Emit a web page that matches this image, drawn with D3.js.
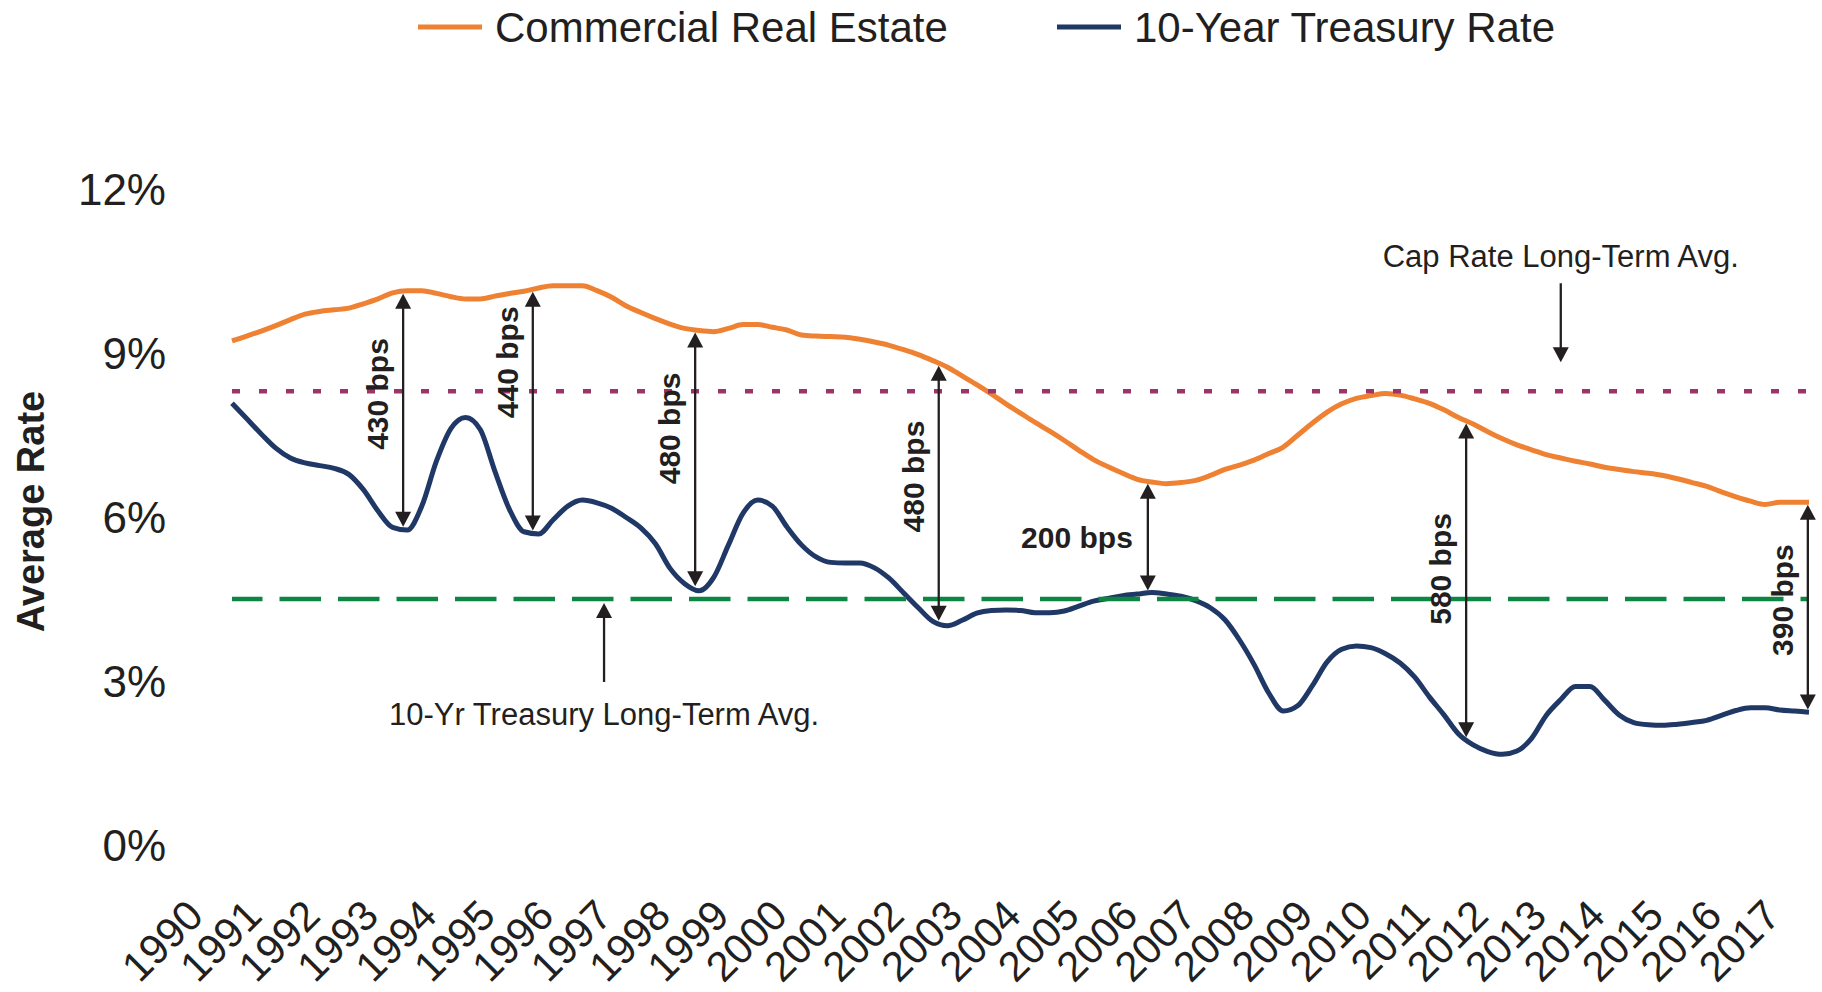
<!DOCTYPE html>
<html>
<head>
<meta charset="utf-8">
<script src="https://cdn.jsdelivr.net/npm/d3@7"></script>
<style>
	body{margin:0;background:#fff;}
	svg{display:block;font-family:"Liberation Sans",Arial,Helvetica,sans-serif;}
</style>
</head>
<body>
<svg id="chart"></svg>
<script>
// x axis tick labels
var yearLabels = ["1990","1991","1992","1993","1994","1995","1996","1997","1998","1999",
	"2000","2001","2002","2003","2004","2005","2006","2007","2008","2009",
	"2010","2011","2012","2013","2014","2015","2016","2017"];
var seriesNames = ["Commercial Real Estate", "10-Year Treasury Rate"];

// quarterly readings (%), first one sits on 1990, last one on 2017
var startYear = 1990;
var capRates = [
	9.22, 9.31, 9.40, 9.50, 9.61, 9.71, 9.76, 9.79,
	9.82, 9.90, 9.99, 10.10, 10.14, 10.14, 10.09, 10.03,
	9.99, 9.99, 10.04, 10.09, 10.13, 10.19, 10.23, 10.23,
	10.23, 10.14, 10.02, 9.86, 9.74, 9.63, 9.53, 9.45,
	9.41, 9.39, 9.45, 9.52, 9.52, 9.47, 9.42, 9.33,
	9.31, 9.30, 9.29, 9.25, 9.20, 9.14, 9.06, 8.97,
	8.86, 8.74, 8.58, 8.42, 8.25, 8.07, 7.90, 7.73,
	7.57, 7.40, 7.22, 7.05, 6.92, 6.80, 6.69, 6.64,
	6.61, 6.63, 6.67, 6.76, 6.87, 6.95, 7.04, 7.16,
	7.28, 7.50, 7.72, 7.92, 8.07, 8.17, 8.22, 8.26,
	8.23, 8.16, 8.08, 7.96, 7.82, 7.70, 7.56, 7.43,
	7.32, 7.23, 7.14, 7.08, 7.02, 6.97, 6.91, 6.87,
	6.83, 6.80, 6.76, 6.70, 6.63, 6.56, 6.46, 6.37,
	6.29, 6.23, 6.27, 6.27, 6.27
];
var treasuryRates = [
	8.08, 7.80, 7.52, 7.26, 7.08, 6.99, 6.94, 6.89,
	6.78, 6.50, 6.11, 5.81, 5.76, 6.20, 7.02, 7.62,
	7.82, 7.60, 6.84, 6.14, 5.73, 5.69, 5.95, 6.20,
	6.31, 6.26, 6.16, 5.99, 5.80, 5.51, 5.06, 4.78,
	4.65, 4.90, 5.49, 6.07, 6.31, 6.20, 5.82, 5.49,
	5.27, 5.17, 5.16, 5.16, 5.07, 4.88, 4.61, 4.34,
	4.09, 4.01, 4.11, 4.24, 4.29, 4.30, 4.29, 4.25,
	4.25, 4.28, 4.37, 4.46, 4.51, 4.56, 4.59, 4.62,
	4.59, 4.55, 4.47, 4.34, 4.12, 3.75, 3.30, 2.78,
	2.45, 2.55, 2.92, 3.35, 3.58, 3.64, 3.61, 3.50,
	3.33, 3.07, 2.71, 2.38, 2.03, 1.83, 1.71, 1.66,
	1.72, 1.95, 2.37, 2.66, 2.90, 2.90, 2.65, 2.38,
	2.24, 2.20, 2.19, 2.21, 2.24, 2.28, 2.37, 2.46,
	2.51, 2.51, 2.47, 2.45, 2.43
];
var yTicks = [0, 3, 6, 9, 12];

// long-term averages
var capRateAvg = 8.3;
var treasuryAvg = 4.5;
var avgLabels = ["Cap Rate Long-Term Avg.", "10-Yr Treasury Long-Term Avg."];
var avgLabelYears = [2012.75, 1996.37];

// spread call-outs
var spreadYears = [1992.93, 1995.15, 1997.93, 2002.10, 2005.68, 2011.13, 2016.98];
var spreadLabels = ["430 bps", "440 bps", "480 bps", "480 bps", "200 bps", "580 bps", "390 bps"];

RateChart = {
	"_width": 1822,
	"_height": 992,
	"_svg": null,
	"_x": null,
	"_y": null,
	"_ink": "#231f20",
	"_colors": ["#ef8133", "#1f3866"],
	"_capAvgColor": "#9c3469",
	"_treasuryAvgColor": "#0d8543",

	"render": function(selector){
		this._svg = d3.select(selector)
					  .attr("width", this._width)
					  .attr("height", this._height);
		this._x = d3.scaleLinear().domain([1990, 2017]).range([232, 1809]);
		this._y = d3.scaleLinear().domain([0, 12]).range([845, 189]);

		this.renderAxes();
		this.renderLines();
		this.renderAverages();
		this.renderSpreads();
		this.renderLegend();
	},
	"points": function(list){
		return list.map(function(v, i){ return {"t": startYear + i / 4, "v": v}; });
	},
	// reading of a series at a given year, between two quarters
	"valueAt": function(list, t){
		var p = (t - startYear) * 4,
			i = Math.floor(p),
			f = p - i;
		if(i >= list.length - 1) return list[list.length - 1];
		return list[i] * (1 - f) + list[i + 1] * f;
	},
	"renderAxes": function(){
		var yAxis = d3.axisLeft(this._y)
					  .tickValues(yTicks)
					  .tickSize(0)
					  .tickPadding(66)
					  .tickFormat(function(d){ return d + "%"; });
		var gy = this._svg.append("g")
					 .attr("class", "y-axis")
					 .attr("transform", "translate(" + this._x(1990) + ",0)")
					 .call(yAxis);
		gy.select(".domain").remove();
		gy.selectAll("text")
		  .attr("font-size", 44)
		  .attr("font-family", null)
		  .attr("fill", this._ink)
		  .attr("dy", "0.36em");

		var xAxis = d3.axisBottom(this._x)
					  .tickValues(yearLabels.map(Number))
					  .tickSize(0)
					  .tickFormat(function(d, i){ return yearLabels[i]; });
		var gx = this._svg.append("g")
					 .attr("class", "x-axis")
					 .call(xAxis);
		gx.select(".domain").remove();
		// rotated year labels, right end just left of the year
		gx.selectAll("text")
		  .attr("font-size", 42)
		  .attr("font-family", null)
		  .attr("fill", this._ink)
		  .attr("text-anchor", "end")
		  .attr("x", 0)
		  .attr("y", 0)
		  .attr("dy", 0)
		  .attr("transform", "translate(-27,918) rotate(-45)");

		this._svg.append("text")
				 .attr("class", "y-title")
				 .attr("transform", "translate(44," + this._y(6.1) + ") rotate(-90)")
				 .attr("text-anchor", "middle")
				 .attr("font-size", 38)
				 .attr("font-weight", "bold")
				 .attr("fill", this._ink)
				 .text("Average Rate");
	},
	"renderLines": function(){
		var that = this;
		var line = d3.line()
					 .x(function(d){ return that._x(d.t); })
					 .y(function(d){ return that._y(d.v); })
					 .curve(d3.curveMonotoneX);
		[capRates, treasuryRates].forEach(function(list, i){
			that._svg.append("path")
					 .attr("class", "series")
					 .attr("d", line(that.points(list)))
					 .attr("fill", "none")
					 .attr("stroke", that._colors[i])
					 .attr("stroke-width", 5)
					 .attr("stroke-linejoin", "round");
		});
	},
	"renderAverages": function(){
		var x0 = this._x(1990), x1 = this._x(2017);
		var yCap = this._y(capRateAvg), yTr = this._y(treasuryAvg);

		this._svg.append("line")
				 .attr("x1", x0).attr("x2", x1)
				 .attr("y1", yCap).attr("y2", yCap)
				 .attr("stroke", this._capAvgColor)
				 .attr("stroke-width", 4.5)
				 .attr("stroke-dasharray", "8,19");
		this._svg.append("line")
				 .attr("x1", x0).attr("x2", x1)
				 .attr("y1", yTr).attr("y2", yTr)
				 .attr("stroke", this._treasuryAvgColor)
				 .attr("stroke-width", 4.5)
				 .attr("stroke-dasharray", "41.5,17")
				 .attr("stroke-dashoffset", 11);

		// cap rate label sits above, pointing down
		var cx = this._x(avgLabelYears[0]);
		this._svg.append("text")
				 .attr("x", cx).attr("y", yCap - 124)
				 .attr("text-anchor", "middle")
				 .attr("font-size", 31)
				 .attr("fill", this._ink)
				 .text(avgLabels[0]);
		this.arrow(cx, yCap - 108, yCap - 29, false, true);

		// treasury label sits below, pointing up
		var tx = this._x(avgLabelYears[1]);
		this._svg.append("text")
				 .attr("x", tx).attr("y", yTr + 126)
				 .attr("text-anchor", "middle")
				 .attr("font-size", 31)
				 .attr("fill", this._ink)
				 .text(avgLabels[1]);
		this.arrow(tx, yTr + 4, yTr + 83, true, false);
	},
	// vertical arrow from y0 (top) to y1 (bottom)
	"arrow": function(x, y0, y1, headTop, headBottom){
		var g = this._svg.append("g").attr("class", "arrow");
		var hw = 8, hh = 15;
		g.append("line")
		 .attr("x1", x).attr("x2", x)
		 .attr("y1", headTop ? y0 + hh - 1 : y0)
		 .attr("y2", headBottom ? y1 - hh + 1 : y1)
		 .attr("stroke", this._ink)
		 .attr("stroke-width", 2.3);
		if(headTop){
			g.append("path")
			 .attr("d", "M" + x + "," + y0 + "L" + (x + hw) + "," + (y0 + hh) + "L" + (x - hw) + "," + (y0 + hh) + "Z")
			 .attr("fill", this._ink);
		}
		if(headBottom){
			g.append("path")
			 .attr("d", "M" + x + "," + y1 + "L" + (x + hw) + "," + (y1 - hh) + "L" + (x - hw) + "," + (y1 - hh) + "Z")
			 .attr("fill", this._ink);
		}
	},
	"renderSpreads": function(){
		var that = this;
		// where each label is centred, in rate units; the 200 bps one is written flat
		var labelAt = [8.25, 8.83, 7.62, 6.74, 5.63, 5.05, 4.48];
		spreadYears.forEach(function(t, i){
			var x = that._x(t),
				top = that._y(that.valueAt(capRates, t)) + 2.5,
				bottom = that._y(that.valueAt(treasuryRates, t)) - 2.5;
			that.arrow(x, top, bottom, true, true);

			var label = that._svg.append("text")
								 .attr("font-size", 30)
								 .attr("font-weight", "bold")
								 .attr("fill", that._ink)
								 .text(spreadLabels[i]);
			if(spreadLabels[i] === "200 bps"){
				label.attr("x", x - 15)
					 .attr("y", that._y(labelAt[i]))
					 .attr("dy", "0.36em")
					 .attr("text-anchor", "end");
			} else {
				label.attr("transform", "translate(" + (x - 26) + "," + that._y(labelAt[i]) + ") rotate(-90)")
					 .attr("dy", "0.36em")
					 .attr("text-anchor", "middle");
			}
		});
	},
	"renderLegend": function(){
		var that = this;
		var items = this._svg.append("g")
						.attr("class", "legend")
						.selectAll("g")
						.data(seriesNames)
						.enter()
						.append("g")
						.attr("transform", function(d, i){ return "translate(" + (418 + i * 639) + ",0)"; });
		items.append("line")
			 .attr("x1", 0).attr("x2", 64)
			 .attr("y1", 27).attr("y2", 27)
			 .attr("stroke", function(d, i){ return that._colors[i]; })
			 .attr("stroke-width", 5);
		items.append("text")
			 .attr("x", 77)
			 .attr("y", 42)
			 .attr("font-size", 42)
			 .attr("fill", this._ink)
			 .text(function(d){ return d; });
	}
};

RateChart.render("#chart");
</script>
</body>
</html>
